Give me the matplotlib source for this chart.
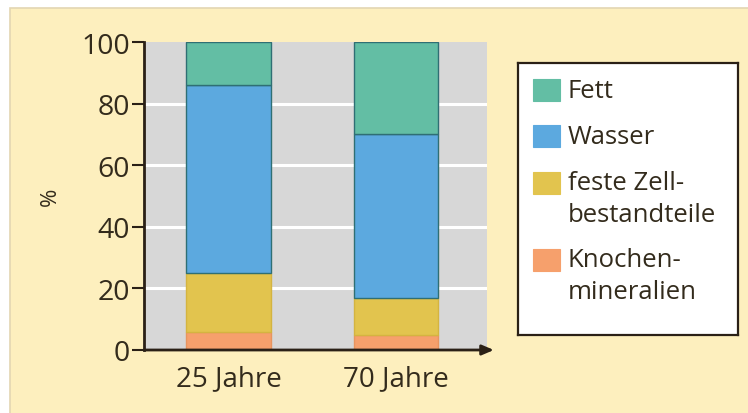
import matplotlib
matplotlib.use("Agg")
import matplotlib.pyplot as plt
from matplotlib.patches import Rectangle

# Body composition by age (percent)
groups = ["25 Jahre", "70 Jahre"]
knochen = [6, 5]
zell = [19, 12]
wasser = [61, 53]
fett = [14, 30]

series_labels = ["Knochen-\nmineralien", "feste Zell-\nbestandteile", "Wasser", "Fett"]
series_values = [knochen, zell, wasser, fett]
series_colors = ["#f6a06c", "#e2c44e", "#5ca9df", "#63bea4"]
series_edges = ["#e8955f", "#d4b440", "#2f6f74", "#2f6f74"]
y_ticks = [0, 20, 40, 60, 80, 100]

plt.rcParams["font.family"] = ["Open Sans", "DejaVu Sans"]
text_col = "#332b1c"
axis_col = "#2a2016"

fig = plt.figure(figsize=(7.48, 4.14), dpi=100)
fig.patch.set_facecolor("white")
# beige panel running off the right and bottom edges
fig.add_artist(Rectangle((10 / 748, -0.1), 1.2, 1.1 - 9 / 414, transform=fig.transFigure,
                         facecolor="#fdefbe", edgecolor="#e3d6b2", linewidth=1.2, zorder=-10))

ax = fig.add_axes([144 / 748, 63 / 414, 343 / 748, 308 / 414])
ax.set_facecolor("#d7d7d7")

x = list(range(len(groups)))
bottom = [0] * len(groups)
for vals, col, ec in zip(series_values, series_colors, series_edges):
    ax.bar(x, vals, bottom=bottom, width=0.507, color=col, edgecolor=ec,
           linewidth=1.0, zorder=3)
    bottom = [b + v for b, v in zip(bottom, vals)]

ax.set_xlim(-0.504, 1.543)
ax.set_ylim(0, 100)
for gy in y_ticks[1:-1]:
    ax.axhline(gy, color="white", linewidth=2.2, zorder=1)

for side in ["top", "right", "bottom"]:
    ax.spines[side].set_visible(False)
ax.spines["left"].set_color(axis_col)
ax.spines["left"].set_linewidth(2.0)
ax.spines["left"].set_zorder(5)

ax.annotate("", xy=(1.02, 0), xytext=(0, 0), xycoords="axes fraction",
            textcoords="axes fraction",
            arrowprops=dict(arrowstyle="-|>,head_length=0.7,head_width=0.3",
                            color=axis_col, linewidth=2.0, shrinkA=0, shrinkB=0),
            zorder=6, annotation_clip=False)

ax.set_yticks(y_ticks)
ax.set_yticklabels([str(t) for t in y_ticks], fontsize=20.5, color=text_col)
ax.tick_params(axis="y", length=9, width=1.5, color=axis_col, pad=1)
ax.set_xticks(x)
ax.set_xticklabels(groups, fontsize=20, color=text_col)
ax.tick_params(axis="x", length=0, pad=10)

ax.text(-0.274, 0.5, "%", transform=ax.transAxes, rotation=90, fontsize=16,
        color=text_col, ha="center", va="center")

# legend box
lax = fig.add_axes([518 / 748, 78 / 414, 220 / 748, 272 / 414])
lax.set_xlim(0, 220)
lax.set_ylim(272, 0)
lax.set_xticks([])
lax.set_yticks([])
lax.set_facecolor("white")
for s in lax.spines.values():
    s.set_color(axis_col)
    s.set_linewidth(1.6)

legend_order = [3, 2, 1, 0]
patch_centers = [27, 73, 120, 197]
for idx, cy in zip(legend_order, patch_centers):
    lax.add_patch(Rectangle((15, cy - 11), 27, 22, facecolor=series_colors[idx],
                            edgecolor=series_colors[idx], linewidth=0.8))
    lines = series_labels[idx].split("\n")
    for k, line in enumerate(lines):
        lax.text(50, cy + k * 32, line, fontsize=18.5, color=text_col,
                 ha="left", va="center")

fig.savefig("out.png", dpi=100)
